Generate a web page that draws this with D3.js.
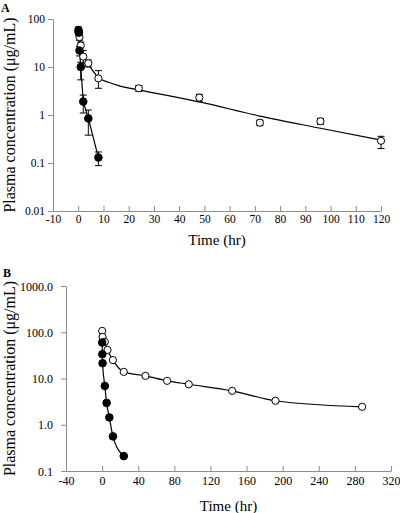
<!DOCTYPE html>
<html><head><meta charset="utf-8">
<script src="https://cdn.jsdelivr.net/npm/d3@7"></script>
<style>body{margin:0;background:#fff}svg{display:block}text{font-family:"Liberation Serif","Times New Roman",serif;fill:#000}</style>
</head><body><svg id="c" width="400" height="513"></svg>
<script>
// Panel A data
const aOpenT   = [0.083, 0.5, 1, 2, 4, 8, 24, 48, 72, 96, 120];
const aOpenV   = [55, 42, 28, 16.5, 12, 5.8, 3.6, 2.3, 0.69, 0.74, 0.29];
const aOpenHi  = [62, 48, 33, 22, 14, 8.4, 4.1, 2.7, 0.78, 0.85, 0.36];
const aOpenLo  = [48, 36, 22, 12, 10, 3.6, 3.1, 1.9, 0.6, 0.64, 0.2];
const aFitT    = [0.083, 0.5, 1, 2, 4, 8, 12, 16, 24, 48, 72, 96, 120];
const aFitV    = [55, 42, 29, 17, 11.5, 6.0, 4.8, 4.1, 3.35, 1.87, 0.95, 0.53, 0.30];
const aFillT   = [0.083, 0.25, 0.5, 1, 2, 4, 8];
const aFillV   = [59, 52, 22, 10, 1.9, 0.85, 0.13];
const aFillHi  = [68, 60, 27, 12.5, 2.6, 1.27, 0.17];
const aFillLo  = [50, 45, 17, 5.4, 1.1, 0.38, 0.088];
const aXTicks  = [-10, 0, 10, 20, 30, 40, 50, 60, 70, 80, 90, 100, 110, 120];
const aYTicks  = [0.01, 0.1, 1, 10, 100];
const aYLabels = ["0.01", "0.1", "1", "10", "100"];
// Panel B data
const bOpenT   = [0.083, 0.5, 3, 6, 12, 24, 48, 72, 96, 144, 192, 288];
const bOpenV   = [107, 79, 62, 41.5, 25, 13.9, 11.4, 8.9, 7.5, 5.4, 3.3, 2.44];
const bFillT   = [0.083, 0.25, 0.5, 3, 5, 8, 12, 24];
const bFillV   = [60, 33.5, 21.4, 6.9, 2.97, 1.44, 0.56, 0.21];
const bXTicks  = [-40, 0, 40, 80, 120, 160, 200, 240, 280, 320];
const bYTicks  = [0.1, 1, 10, 100, 1000];
const bYLabels = ["0.1", "1.0", "10.0", "100.0", "1000.0"];

const svg = d3.select("#c");
const axisCol = "#8c8c8c";
const serif = "'Liberation Serif','Times New Roman',serif";

function panel(o){
  const g = svg.append("g");
  const x = d3.scaleLinear().domain(o.xd).range([o.x0, o.x1]);
  const y = d3.scaleLog().domain(o.yd).range([o.y0, o.y1]);
  const xa = g.append("g").attr("transform", `translate(0,${o.y0})`)
    .call(d3.axisBottom(x).tickValues(o.xt).tickSizeInner(-5).tickSizeOuter(0).tickFormat(d=>String(d)));
  xa.attr("font-family", serif);
  xa.select(".domain").attr("stroke", axisCol);
  xa.selectAll(".tick line").attr("stroke", axisCol);
  xa.selectAll("text").attr("font-size", o.fs).attr("font-family", serif).attr("y", o.xly).attr("dy", 0);
  const ya = g.append("g").attr("transform", `translate(${o.x0},0)`)
    .call(d3.axisLeft(y).tickValues(o.yt).tickSizeInner(5).tickSizeOuter(0).tickFormat((d,i)=>o.yl[i]));
  ya.attr("font-family", serif);
  ya.select(".domain").attr("stroke", axisCol);
  ya.selectAll(".tick line").attr("stroke", axisCol);
  ya.selectAll("text").attr("font-size", o.fs).attr("font-family", serif).attr("x", -o.ylx).attr("dy", "0.34em");
  g.append("text").attr("x", (o.x0+o.x1)/2).attr("y", o.xtY).attr("text-anchor","middle")
    .attr("font-size", 15).text("Time (hr)");
  g.append("text").attr("transform", `translate(${o.ytX},${(o.y0+o.y1)/2}) rotate(-90)`)
    .attr("text-anchor","middle").attr("font-size", 16).text("Plasma concentration (μg/mL)");
  g.append("text").attr("x", o.lx).attr("y", o.ly).attr("font-size", 12).attr("font-weight","bold").text(o.letter);
  return {g, x, y};
}

function lineOf(p, T, V, curve){
  p.g.append("path").datum(T.map((t,i)=>[t,V[i]]))
    .attr("fill","none").attr("stroke","#000").attr("stroke-width",1.2)
    .attr("d", d3.line().x(d=>p.x(d[0])).y(d=>p.y(d[1])).curve(curve));
}
function errs(p, T, Hi, Lo){
  const e = p.g.append("g").attr("stroke","#000").attr("stroke-width",1);
  T.forEach((t,i)=>{
    const cx = p.x(t);
    e.append("line").attr("x1",cx).attr("x2",cx).attr("y1",p.y(Hi[i])).attr("y2",p.y(Lo[i]));
    e.append("line").attr("x1",cx-3.5).attr("x2",cx+3.5).attr("y1",p.y(Hi[i])).attr("y2",p.y(Hi[i]));
    e.append("line").attr("x1",cx-3.5).attr("x2",cx+3.5).attr("y1",p.y(Lo[i])).attr("y2",p.y(Lo[i]));
  });
}
function dots(p, T, V, fill, r){
  p.g.append("g").selectAll("circle").data(T.map((t,i)=>[t,V[i]])).join("circle")
    .attr("cx", d=>p.x(d[0])).attr("cy", d=>p.y(d[1])).attr("r", r)
    .attr("fill", fill).attr("stroke","#000").attr("stroke-width",1);
}

const A = panel({xd:[-10,120], x0:53, x1:381, yd:[0.01,100], y0:211, y1:19,
  xt:aXTicks, yt:aYTicks, yl:aYLabels, fs:11.5, xly:12, ylx:8, xtY:245, ytX:15, lx:1, ly:12, letter:"A"});
errs(A, aOpenT, aOpenHi, aOpenLo);
errs(A, aFillT, aFillHi, aFillLo);
lineOf(A, aFitT, aFitV, d3.curveMonotoneX);
lineOf(A, aFillT, aFillV, d3.curveLinear);
dots(A, aOpenT, aOpenV, "#fff", 3.6);
dots(A, aFillT, aFillV, "#000", 3.8);

const B = panel({xd:[-40,320], x0:66, x1:391, yd:[0.1,1000], y0:471, y1:286,
  xt:bXTicks, yt:bYTicks, yl:bYLabels, fs:12, xly:14, ylx:13, xtY:511, ytX:15, lx:3, ly:277, letter:"B"});
lineOf(B, bOpenT, bOpenV, d3.curveMonotoneX);
lineOf(B, bFillT, bFillV, d3.curveMonotoneX);
dots(B, bOpenT, bOpenV, "#fff", 3.6);
dots(B, bFillT, bFillV, "#000", 3.8);
</script></body></html>
